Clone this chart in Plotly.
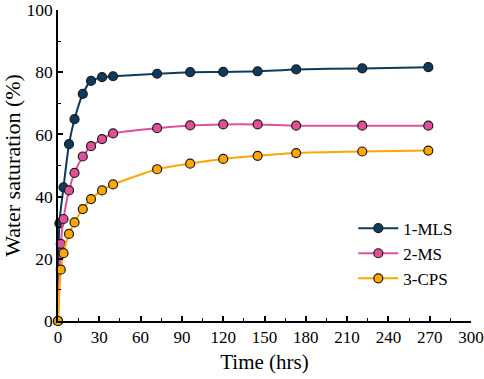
import plotly.graph_objects as go

# Data
series_names = ["1-MLS", "2-MS", "3-CPS"]
t_mls = [0, 1, 4, 8, 12, 18, 24, 32, 40, 72, 96, 120, 145, 173, 221, 269]
s_mls = [0, 31.4, 43.0, 56.9, 64.9, 73.0, 77.2, 78.4, 78.7, 79.5, 80.0, 80.1, 80.3, 80.9, 81.2, 81.6]
t_ms = [0, 2, 4, 8, 12, 18, 24, 32, 40, 72, 96, 120, 145, 173, 221, 269]
s_ms = [0, 24.8, 32.8, 42.0, 47.6, 52.9, 56.2, 58.5, 60.3, 62.0, 62.9, 63.2, 63.2, 62.8, 62.8, 62.8]
t_cps = [0, 2, 4, 8, 12, 18, 24, 32, 40, 72, 96, 120, 145, 173, 221, 269]
s_cps = [0, 16.5, 21.8, 28.0, 31.7, 36.0, 39.2, 42.0, 43.9, 48.8, 50.6, 52.1, 53.1, 54.0, 54.5, 54.8]
colors = ["#0e3a5c", "#e0509a", "#ffa600"]

FONT = "Liberation Serif"

fig = go.Figure()
for name, t, s, c in zip(series_names, [t_mls, t_ms, t_cps], [s_mls, s_ms, s_cps], colors):
    fig.add_trace(go.Scatter(
        x=t, y=s, name=name, mode="lines+markers",
        line=dict(color=c, width=2, shape="spline", smoothing=0.6),
        marker=dict(color=c, size=9, line=dict(color="#1a1a1a", width=1.2)),
        cliponaxis=False,
    ))

axis_common = dict(
    showline=True, linecolor="black", linewidth=1.5,
    ticks="inside", ticklen=5, tickwidth=1.5, tickcolor="black",
    showgrid=False, zeroline=False, mirror=False,
    ticklabeloverflow="allow", automargin=False,
)

fig.update_xaxes(
    range=[0, 300], dtick=30, tick0=0,
    minor=dict(ticks="inside", ticklen=3, tickwidth=1.2, tickcolor="black", dtick=15),
    tickfont=dict(family=FONT, size=17, color="black"),
    title=dict(text="Time (hrs)", font=dict(family=FONT, size=21, color="black"), standoff=8),
    **axis_common,
)
fig.update_yaxes(
    range=[0, 100], dtick=20, tick0=0,
    minor=dict(ticks="inside", ticklen=3, tickwidth=1.2, tickcolor="black", dtick=10),
    tickfont=dict(family=FONT, size=17.5, color="black"),
    title=dict(text="Water saturation (%)", font=dict(family=FONT, size=22, color="black"), standoff=6),
    **axis_common,
)

fig.update_layout(
    width=484, height=379,
    margin=dict(l=58, r=13, t=10, b=58),
    paper_bgcolor="white", plot_bgcolor="white",
    font=dict(family=FONT),
    showlegend=True,
    legend=dict(
        x=0.715, y=0.355, xanchor="left", yanchor="top",
        bgcolor="rgba(0,0,0,0)", borderwidth=0,
        font=dict(family=FONT, size=17, color="black"),
        itemwidth=40, tracegroupgap=0,
    ),
)

fig.write_html(
    "out.html",
    config={"displayModeBar": False},
    post_script="document.body.style.margin='0';document.body.style.overflow='hidden';",
)
